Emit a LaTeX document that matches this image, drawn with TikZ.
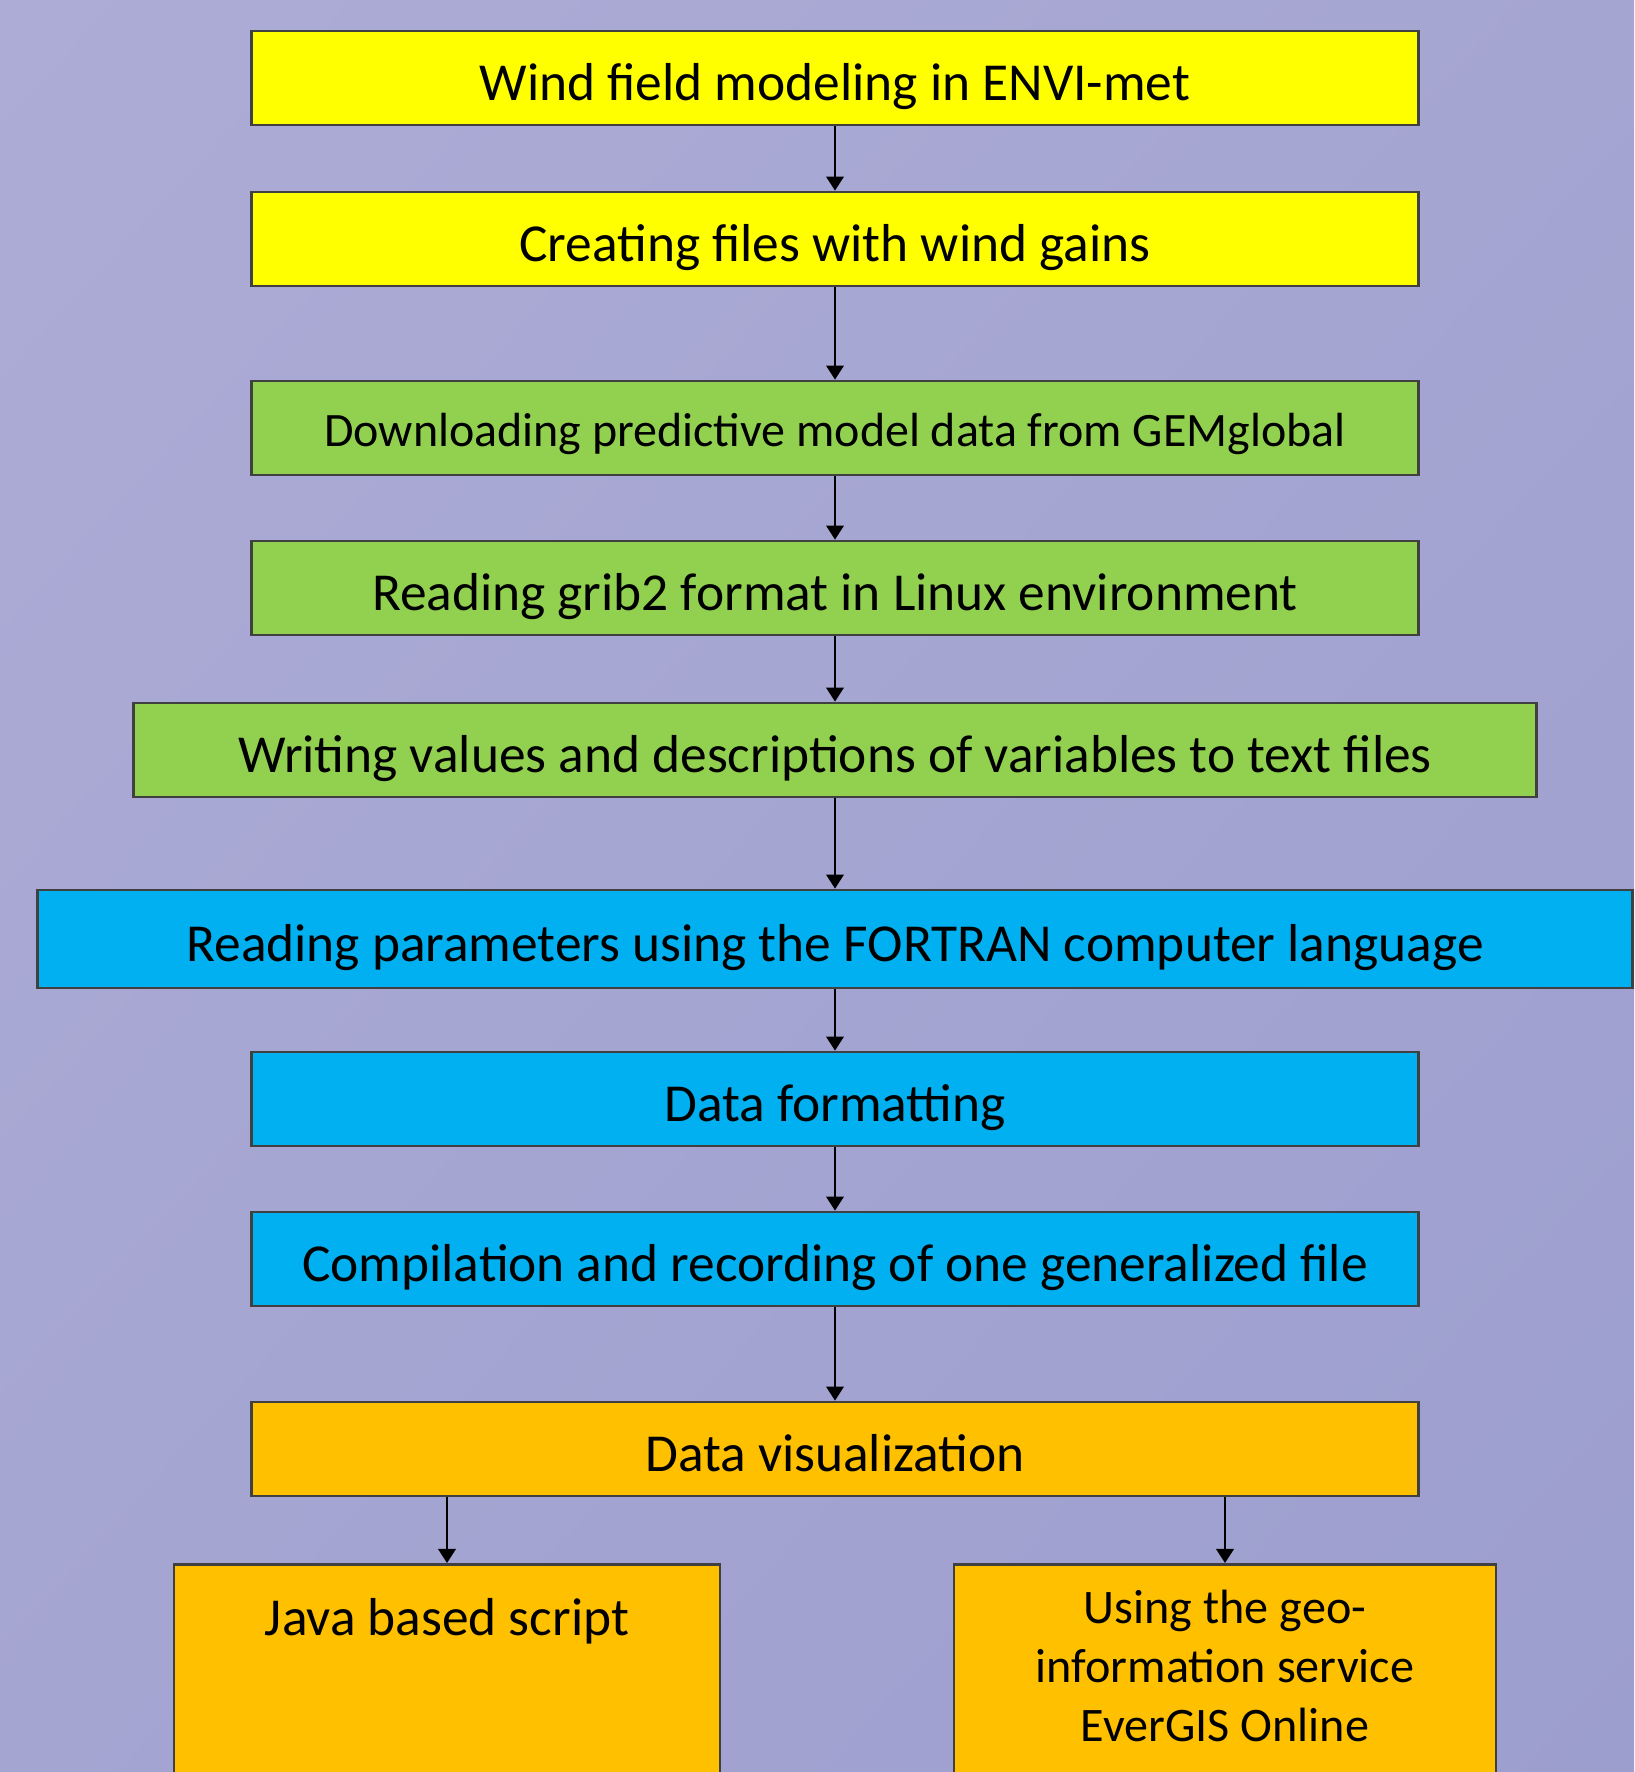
\documentclass[tikz,border=0pt]{standalone}
\usepackage{fontspec}
\setmainfont{Carlito}
\usetikzlibrary{arrows.meta, shadings}
\definecolor{bgtop}{RGB}{173,172,214}
\definecolor{bgmid}{RGB}{165,165,210}
\definecolor{bgbot}{RGB}{156,158,206}
\definecolor{boxyellow}{RGB}{255,255,0}
\definecolor{boxgreen}{RGB}{146,208,80}
\definecolor{boxblue}{RGB}{0,176,240}
\definecolor{boxorange}{RGB}{255,192,0}
\begin{document}
\begin{tikzpicture}[x = 0.02cm, y = -0.02cm,
    stepbox/.style = {draw = black!75, line width = 1.6pt, inner sep = 0pt,
        minimum width = 23.34cm, minimum height = 1.88cm,
        text height = 1.2cm, text depth = 0.3cm,
        font = \fontsize{30.4}{36}\selectfont},
    flow/.style = {-{Triangle[width = 10pt, length = 8pt]}, line width = 1.1pt}]
            \useasboundingbox (0, 0) rectangle (1634, 1772);
            \clip (0, 0) rectangle (1634, 1772);
            \shade [upper left = bgtop, upper right = bgmid, lower left = bgmid, lower right = bgbot] (0, 0) rectangle (1634, 1772);
            % main chain
            \node [stepbox, fill = boxyellow] (wind) at (835, 78) {Wind field modeling in ENVI-met};
            \node [stepbox, fill = boxyellow] (gains) at (835, 239) {Creating files with wind gains};
            \node [stepbox, fill = boxgreen, font = \fontsize{27.3}{32}\selectfont, text height = 1.1cm, text depth = 0.38cm] (download) at (835, 428) {Downloading predictive model data from GEMglobal};
            \node [stepbox, fill = boxgreen] (grib) at (835, 588) {Reading grib2 format in Linux environment};
            \node [stepbox, fill = boxgreen, minimum width = 28.08cm] (values) at (835, 750) {Writing values and descriptions of variables to text files};
            \node [stepbox, fill = boxblue, minimum width = 31.9cm, minimum height = 1.96cm] (fortran) at (835, 939) {Reading parameters using the FORTRAN computer language};
            \node [stepbox, fill = boxblue] (format) at (835, 1099) {Data formatting};
            \node [stepbox, fill = boxblue] (compile) at (835, 1259) {Compilation and recording of one generalized file};
            \node [stepbox, fill = boxorange] (visual) at (835, 1449) {Data visualization};
            % two outputs
            \node [stepbox, fill = boxorange, anchor = north, minimum width = 10.92cm, text height = 1.42cm, text depth = 5cm] (java) at (447, 1563) {Java based script};
            \node [stepbox, fill = boxorange, anchor = north, minimum width = 10.84cm, text height = 1.18cm, text depth = 5cm, font = \fontsize{27.4}{33.6}\selectfont] (evergis) at (1225, 1563) {\parbox[t]{10cm}{\centering Using the geo-\\information service\\EverGIS Online}};
            \draw [flow] (wind) -- (gains);
            \draw [flow] (gains) -- (download);
            \draw [flow] (download) -- (grib);
            \draw [flow] (grib) -- (values);
            \draw [flow] (values) -- (fortran);
            \draw [flow] (fortran) -- (format);
            \draw [flow] (format) -- (compile);
            \draw [flow] (compile) -- (visual);
            \draw [flow] (visual.south -| java.north) -- (java.north);
            \draw [flow] (visual.south -| evergis.north) -- (evergis.north);
        \end{tikzpicture}
\end{document}
